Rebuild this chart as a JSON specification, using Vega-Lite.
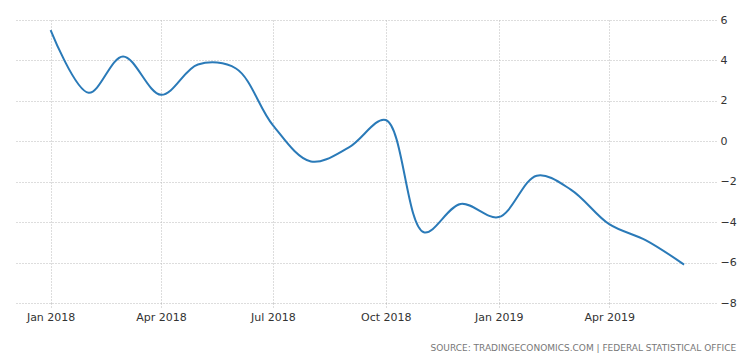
{
  "$schema": "https://vega.github.io/schema/vega-lite/v6.json",
  "width": 701,
  "height": 283,
  "padding": {"left": 15, "top": 14, "right": 5, "bottom": 5},
  "background": "white",
  "config": {
    "view": {"stroke": null},
    "font": "DejaVu Sans"
  },
  "title": {
    "text": "SOURCE: TRADINGECONOMICS.COM  |  FEDERAL STATISTICAL OFFICE",
    "orient": "bottom",
    "anchor": "end",
    "fontSize": 9,
    "fontWeight": "normal",
    "color": "#777777",
    "font": "DejaVu Sans",
    "offset": 22
  },
  "data": {
    "values": [
      {"date": "2018-01-01T00:00:00", "value": 5.5},
      {"date": "2018-02-01T00:00:00", "value": 2.4},
      {"date": "2018-03-01T00:00:00", "value": 4.2},
      {"date": "2018-04-01T00:00:00", "value": 2.3},
      {"date": "2018-05-01T00:00:00", "value": 3.8},
      {"date": "2018-06-01T00:00:00", "value": 3.6},
      {"date": "2018-07-01T00:00:00", "value": 0.8},
      {"date": "2018-08-01T00:00:00", "value": -1.0},
      {"date": "2018-09-01T00:00:00", "value": -0.3},
      {"date": "2018-10-01T00:00:00", "value": 1.05},
      {"date": "2018-11-01T00:00:00", "value": -4.5},
      {"date": "2018-12-01T00:00:00", "value": -3.1},
      {"date": "2019-01-01T00:00:00", "value": -3.75},
      {"date": "2019-02-01T00:00:00", "value": -1.7},
      {"date": "2019-03-01T00:00:00", "value": -2.4},
      {"date": "2019-04-01T00:00:00", "value": -4.1},
      {"date": "2019-05-01T00:00:00", "value": -4.9},
      {"date": "2019-06-01T00:00:00", "value": -6.1}
    ]
  },
  "mark": {"type": "line", "interpolate": "catmull-rom", "color": "#2a7ab8", "strokeWidth": 2},
  "encoding": {
    "x": {
      "field": "date",
      "type": "temporal",
      "scale": {
        "domain": [
          {"year": 2017, "month": 12, "date": 3},
          {"year": 2019, "month": 6, "date": 27}
        ]
      },
      "axis": {
        "title": null,
        "values": [
          {"year": 2018, "month": 1, "date": 1},
          {"year": 2018, "month": 4, "date": 1},
          {"year": 2018, "month": 7, "date": 1},
          {"year": 2018, "month": 10, "date": 1},
          {"year": 2019, "month": 1, "date": 1},
          {"year": 2019, "month": 4, "date": 1}
        ],
        "format": "%b %Y",
        "labelFontSize": 11,
        "labelColor": "#333333",
        "labelPadding": 4,
        "domain": false,
        "ticks": true,
        "tickSize": 4,
        "tickColor": "#bbbbbb",
        "tickDash": [1, 2],
        "grid": true,
        "gridColor": "#bbbbbb",
        "gridDash": [1, 2],
        "gridWidth": 1
      }
    },
    "y": {
      "field": "value",
      "type": "quantitative",
      "scale": {"domain": [-8, 6], "nice": false, "zero": false},
      "axis": {
        "title": null,
        "orient": "right",
        "values": [-8, -6, -4, -2, 0, 2, 4, 6],
        "labelFontSize": 11,
        "labelColor": "#333333",
        "labelPadding": 4,
        "domain": false,
        "ticks": false,
        "grid": true,
        "gridColor": "#bbbbbb",
        "gridDash": [1, 2],
        "gridWidth": 1
      }
    }
  }
}
